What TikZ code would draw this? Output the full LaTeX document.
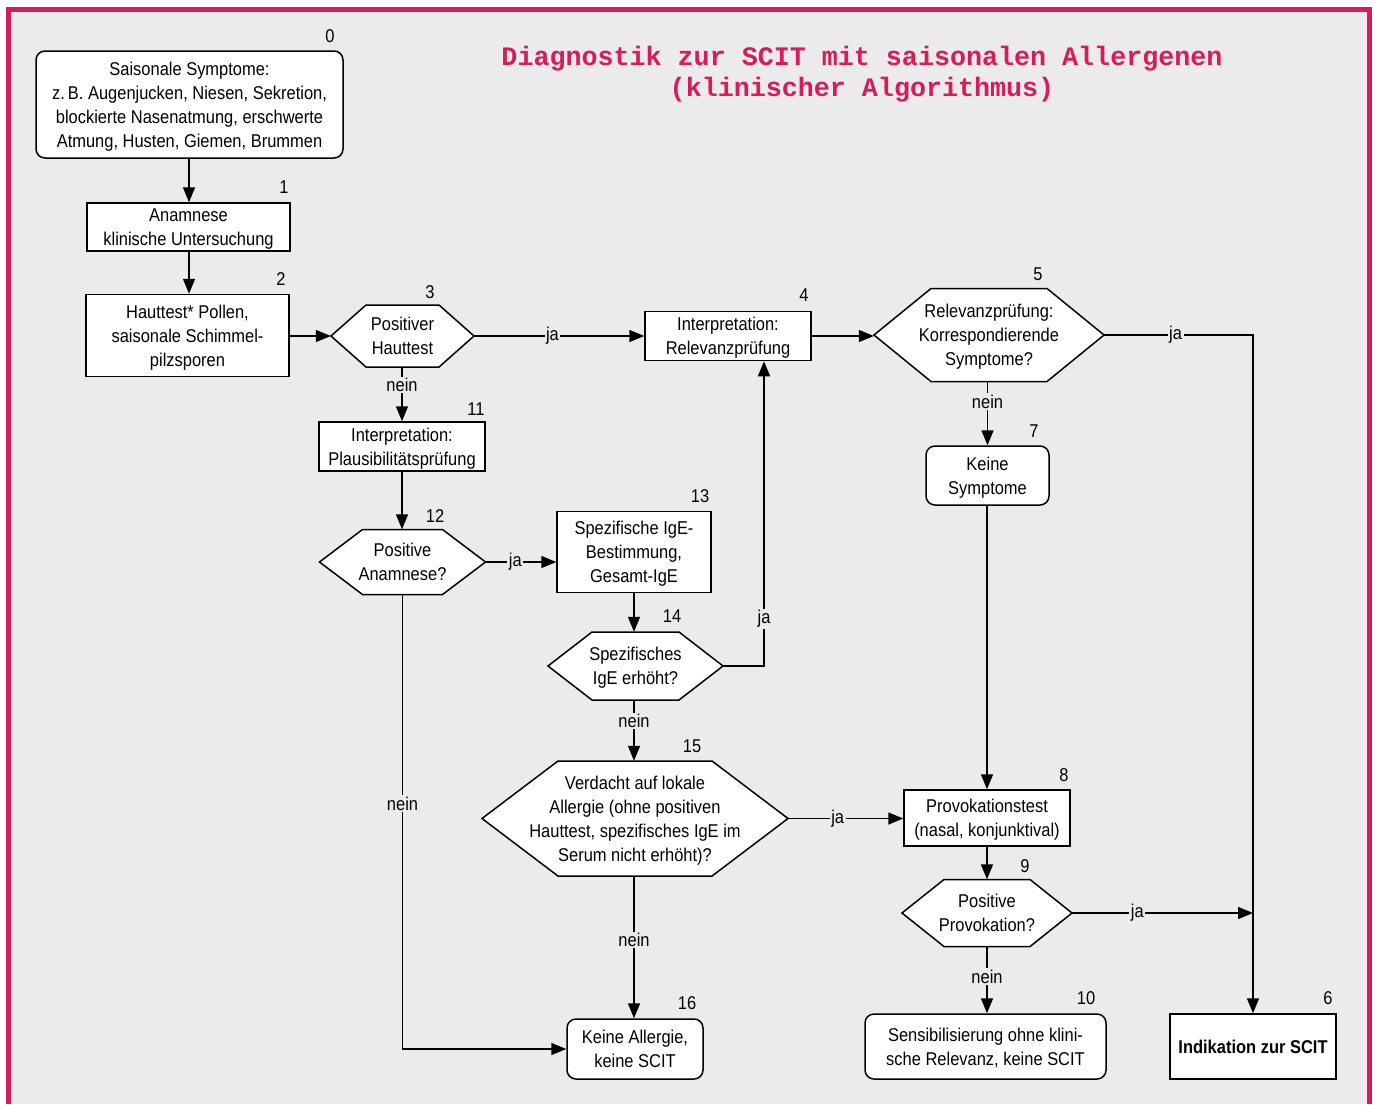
\documentclass[tikz,border=0pt]{standalone}
\usepackage{fontspec}
\setmainfont{Liberation Sans}[FakeStretch=0.89]
\newfontfamily\titlefont{Liberation Mono}
\usetikzlibrary{arrows.meta,calc}
\definecolor{crim}{HTML}{D81B5C}
\definecolor{bggray}{HTML}{EBEBEB}
\tikzset{
  txt/.style={font=\fontsize{18.5}{24}\selectfont, align=center, inner sep=0pt},
  box/.style={txt, text depth=0pt, draw, fill=white, line width=1.5pt, rectangle},
  rbox/.style={box, rounded corners=9pt},
  hexbox/.style={txt, text depth=0pt, rectangle},
  hexline/.style={draw, fill=white, line width=1.5pt, line join=miter},
  num/.style={txt},
  lbl/.style={txt, fill=bggray, inner sep=1.5pt},
  arr/.style={line width=1.5pt, -{Triangle[length=15pt,width=12pt]}},
  ln/.style={line width=1.5pt}
}
% name, cx, cy, width, height, slant, text
\newcommand\hexnode[7]{%
  \path[hexline] ({#2-#4/2},#3) -- ({#2-#4/2+#6},{#3-#5/2}) -- ({#2+#4/2-#6},{#3-#5/2}) -- ({#2+#4/2},#3) -- ({#2+#4/2-#6},{#3+#5/2}) -- ({#2-#4/2+#6},{#3+#5/2}) -- cycle;
  \node[hexbox, minimum width=#4pt, minimum height=#5pt] (#1) at (#2,#3) {#7};}
\begin{document}
\begin{tikzpicture}[x=1pt,y=-1pt]
\useasboundingbox (0,0) rectangle (1375,1104);
\fill[white] (0,0) rectangle (1375,1104);
\fill[bggray] (8,9) rectangle (1370,1104);
\draw[crim, line width=5pt, line join=miter] (8.5,1104) -- (8.5,9.5) -- (1369.5,9.5) -- (1369.5,1104);

% title
\node[align=center, text=crim, inner sep=0pt, font=\titlefont\bfseries\fontsize{26.7}{31.5}\selectfont] (title) at (862,74)
  {Diagnostik zur SCIT mit saisonalen Allergenen\\(klinischer Algorithmus)};

% nodes
\node[rbox, minimum width=307pt, minimum height=107pt] (r0) at (189.5,104.5)
  {Saisonale Symptome:\\z.\,B. Augenjucken, Niesen, Sekretion,\\blockierte Nasenatmung, erschwerte\\Atmung, Husten, Giemen, Brummen};
\node[box, minimum width=203pt, minimum height=48pt] (b1) at (188.5,227) {Anamnese\\klinische Untersuchung};
\node[box, minimum width=203pt, minimum height=82pt] (b2) at (187.5,335.5) {Hauttest* Pollen,\\saisonale Schimmel-\\pilzsporen};
\hexnode{h3}{402.5}{336}{143}{62}{35}{Positiver\\Hauttest}
\node[box, minimum width=166pt, minimum height=49pt] (b4) at (728,336) {Interpretation:\\Relevanzprüfung};
\hexnode{h5}{989}{335}{230}{93}{57}{Relevanzprüfung:\\Korrespondierende\\Symptome?}
\node[box, minimum width=166pt, minimum height=65pt, font=\bfseries\fontsize{18.5}{24}\selectfont] (b6) at (1253,1046.5) {Indikation zur SCIT};
\node[rbox, minimum width=123pt, minimum height=59pt] (r7) at (987.5,475.5) {Keine\\Symptome};
\node[box, minimum width=166pt, minimum height=56pt] (b8) at (987,818) {Provokationstest\\(nasal, konjunktival)};
\hexnode{h9}{987}{913}{170}{67}{42}{Positive\\Provokation?}
\node[rbox, minimum width=241pt, minimum height=65pt] (r10) at (985.5,1046.5) {Sensibilisierung ohne klini-\\sche Relevanz, keine SCIT};
\node[box, minimum width=166pt, minimum height=49pt] (b11) at (402,446.5) {Interpretation:\\Plausibilitätsprüfung};
\hexnode{h12}{402.5}{562}{166}{65}{43}{Positive\\Anamnese?}
\node[box, minimum width=154pt, minimum height=81pt] (b13) at (634,552) {Spezifische IgE-\\Bestimmung,\\Gesamt-IgE};
\hexnode{h14}{635.5}{666}{175}{68}{44}{Spezifisches\\IgE erhöht?}
\hexnode{h15}{635}{818.5}{306}{115}{76}{Verdacht auf lokale\\Allergie (ohne positiven\\Hauttest, spezifisches IgE im\\Serum nicht erhöht)?}
\node[rbox, minimum width=136pt, minimum height=60pt] (r16) at (635,1049) {Keine Allergie,\\keine SCIT};

% numbers
\node[num] (n0) at (330,36) {0};
\node[num] (n1) at (284,187) {1};
\node[num] (n2) at (281,279) {2};
\node[num] (n3) at (430,292) {3};
\node[num] (n4) at (804,295) {4};
\node[num] (n5) at (1038,274) {5};
\node[num] (n6) at (1328,998) {6};
\node[num] (n7) at (1034,431) {7};
\node[num] (n8) at (1064,775) {8};
\node[num] (n9) at (1025,866) {9};
\node[num] (n10) at (1086,998) {10};
\node[num] (n11) at (476,409) {11};
\node[num] (n12) at (435,516) {12};
\node[num] (n13) at (700,496) {13};
\node[num] (n14) at (672,616) {14};
\node[num] (n15) at (692,746) {15};
\node[num] (n16) at (687,1003) {16};

% connectors
\draw[arr] (r0.south -| 189,0) -- (b1.north -| 189,0);
\draw[arr] (b1.south -| 189,0) -- (b2.north -| 189,0);
\draw[arr] (b2.east |- h3.west) -- (h3.west);
\draw[arr] (h3.east) -- node[lbl, pos=0.46] (l3j) {ja} (b4.west);
\draw[arr] (b4.east) -- (b4.east -| h5.west);
\draw[arr] (h5.east) -| node[lbl, pos=0.24] (l5j) {ja} (b6.north);
\draw[arr] (h5.south -| r7.north) -- node[lbl, pos=0.31] (l5n) {nein} (r7.north);
\draw[arr] (r7.south -| b8.north) -- (b8.north);
\draw[arr] (b8.south) -- (h9.north);
\draw[arr] (h9.east) -- node[lbl, pos=0.36] (l9j) {ja} (h9.east -| b6.north);
\draw[arr] (h9.south) -- node[lbl, pos=0.45] (l9n) {nein} (h9.south |- r10.north);
\draw[arr] (h3.south -| b11.north) -- node[lbl, pos=0.33] (l3n) {nein} (b11.north);
\draw[arr] (b11.south) -- (b11.south |- h12.north);
\draw[arr] (h12.east) -- node[lbl, pos=0.42] (l12j) {ja} (h12.east -| b13.west);
\draw[arr] (b13.south) -- (b13.south |- h14.north);
\draw[arr] (h14.east) -| node[lbl, pos=0.577] (l14j) {ja} ([xshift=36pt]b4.south);
\draw[arr] (h14.south -| b13.south) -- node[lbl, pos=0.34] (l14n) {nein} (h15.north -| b13.south);
\draw[arr] (h15.east) -- node[lbl, pos=0.43] (l15j) {ja} (h15.east -| b8.west);
\draw[arr] (h15.south -| b13.south) -- node[lbl, pos=0.45] (l15n) {nein} (r16.north -| b13.south);
\draw[arr] (h12.south) |- node[lbl, pos=0.23] (l12n) {nein} (r16.west);
\end{tikzpicture}
\end{document}
